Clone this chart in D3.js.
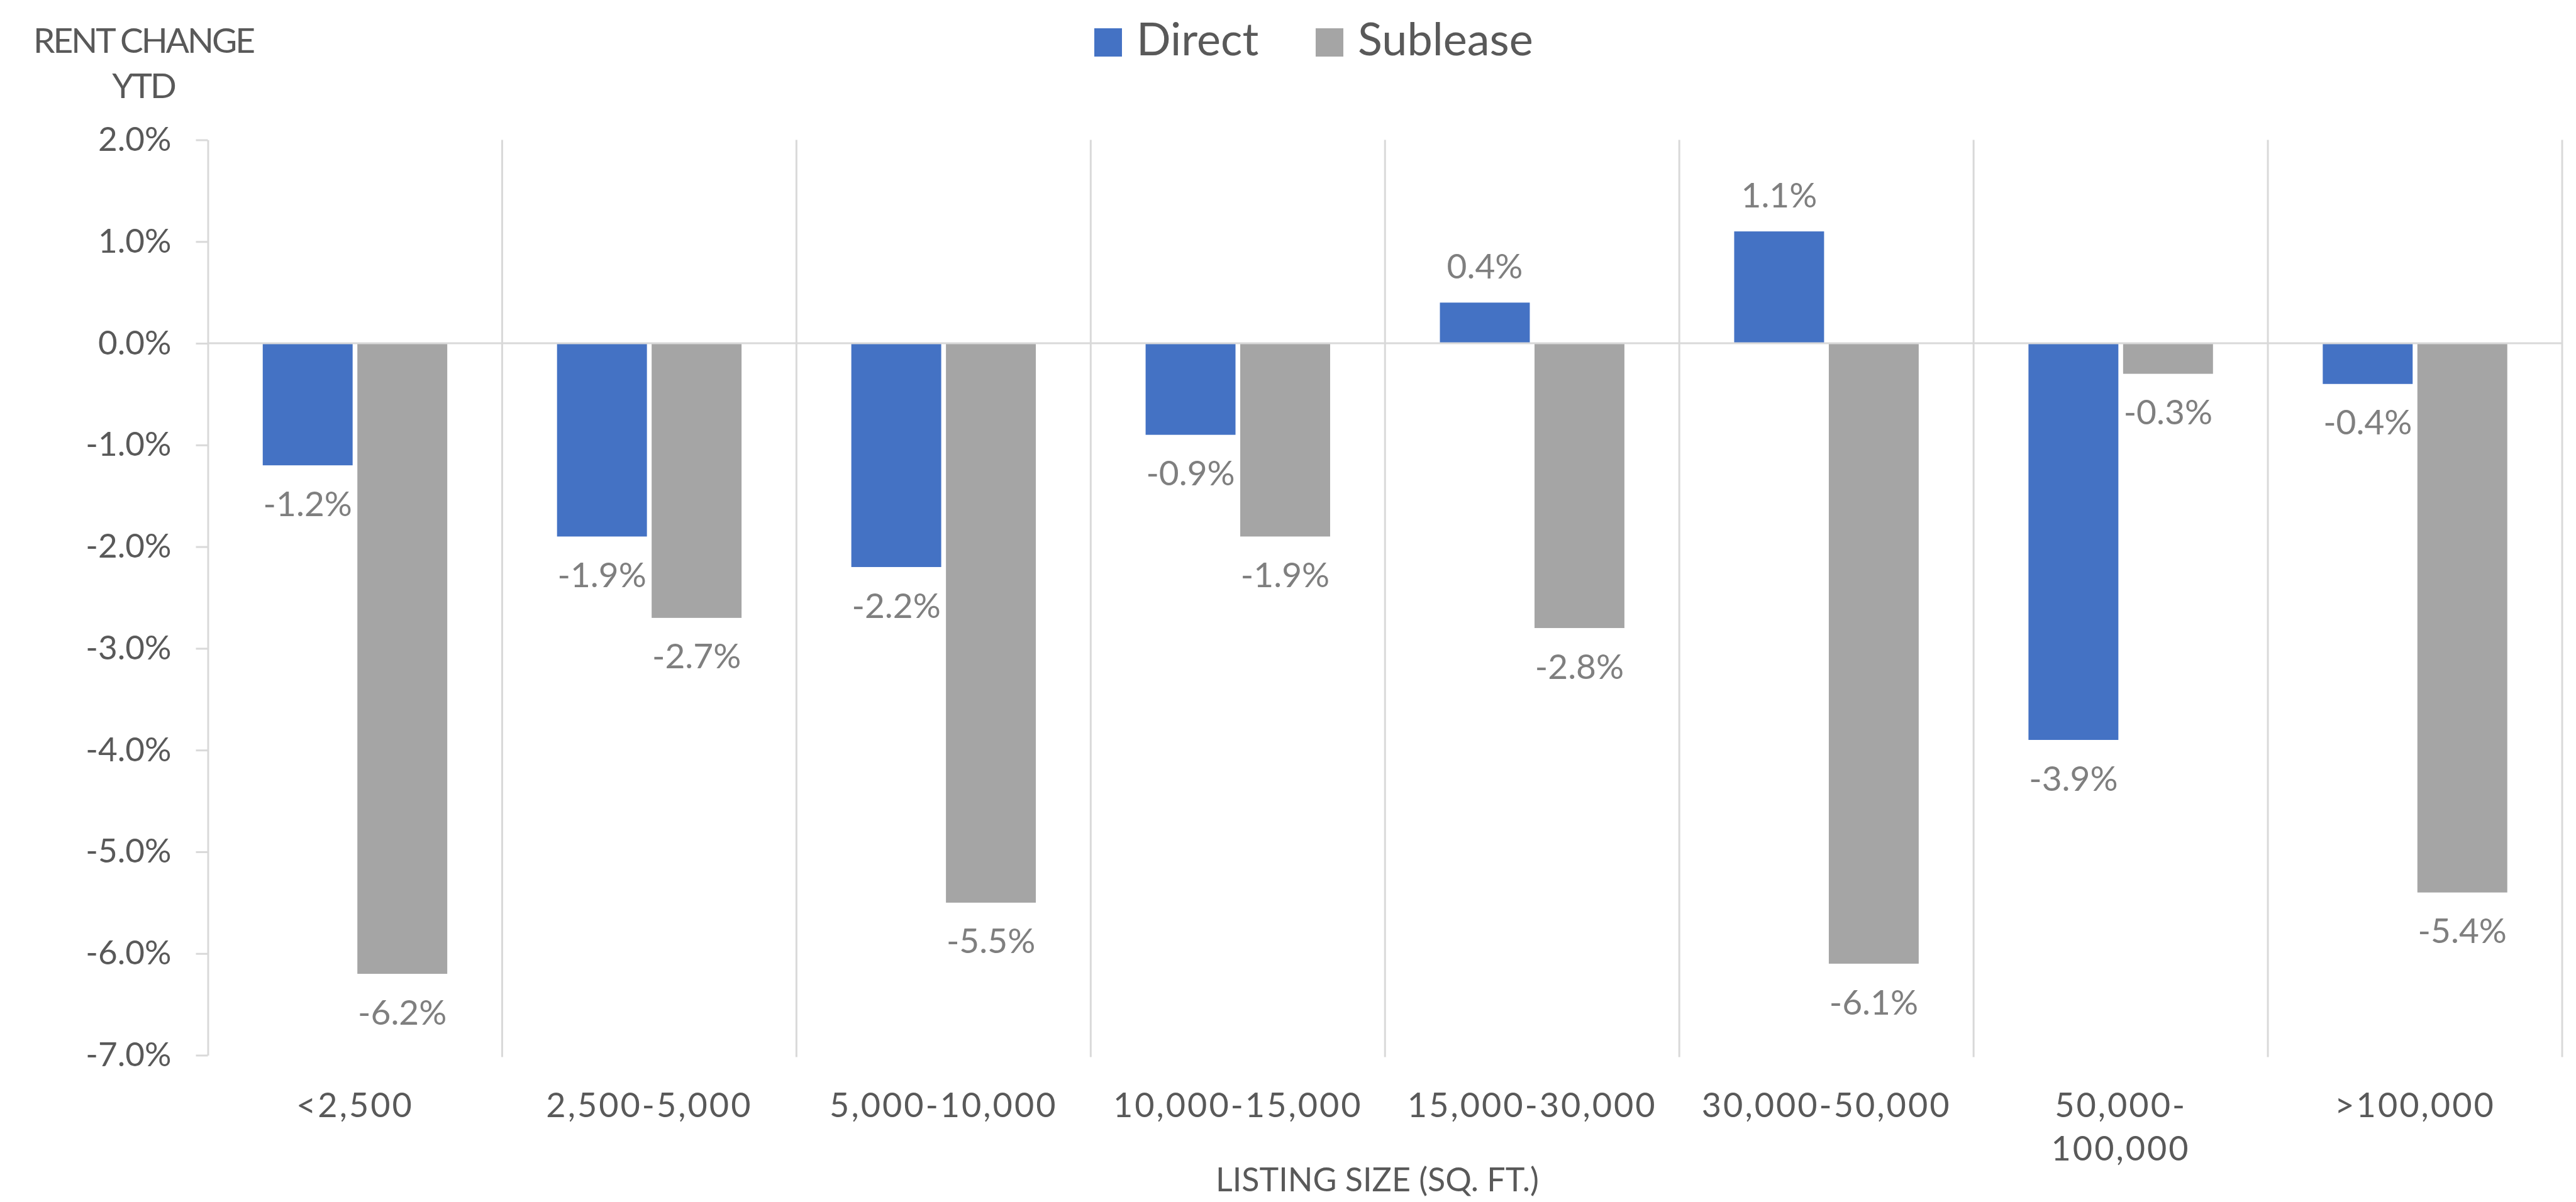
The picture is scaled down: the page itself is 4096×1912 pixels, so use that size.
<!DOCTYPE html>
<html><head><meta charset="utf-8">
<script src="https://cdn.jsdelivr.net/npm/d3@7"></script>
<style>
body{margin:0;background:#fff;}
svg{display:block;background:#fff;}
text{font-family:Lato,"Open Sans",sans-serif;}
</style>
</head><body>
<svg id="chart" width="4096" height="1912"></svg>
<script>
// ---- data ----
const categories = ["<2,500","2,500-5,000","5,000-10,000","10,000-15,000","15,000-30,000","30,000-50,000","50,000-100,000",">100,000"];
const seriesNames = ["Direct","Sublease"];
const directValues = [-1.2,-1.9,-2.2,-0.9,0.4,1.1,-3.9,-0.4];
const subleaseValues = [-6.2,-2.7,-5.5,-1.9,-2.8,-6.1,-0.3,-5.4];
const yTickValues = [2,1,0,-1,-2,-3,-4,-5,-6,-7];
const yTitleLines = ["RENT CHANGE","YTD"];
const xTitle = "LISTING SIZE (SQ. FT.)";
const seriesColors = ["#4472C4","#A5A5A5"];

const seriesValues = [directValues, subleaseValues];
const rows = categories.map((c,i)=>({cat:c, vals: seriesNames.map((s,j)=>({series:s, value:seriesValues[j][i]}))}));

// ---- layout ----
const plotLeft = 330.5, plotRight = 4074, plotTop = 222.5, plotBottom = 1678.5;
const gridColor = "#D9D9D9", axisText = "#595959", labelText = "#7F7F7F";
const locale = d3.formatLocale({decimal:".", thousands:",", grouping:[3], currency:["",""], minus:"-"});
const pct = v => locale.format(".1f")(v) + "%";

const svg = d3.select("#chart");

const x0 = d3.scaleBand().domain(categories).range([plotLeft, plotRight]).padding(0);
const x1 = d3.scaleBand().domain(seriesNames).range([0, x0.bandwidth()]).paddingInner(0.05).paddingOuter(0.58);
const y = d3.scaleLinear().domain([-7, 2]).range([plotBottom, plotTop]);
const color = d3.scaleOrdinal().domain(seriesNames).range(seriesColors);

// vertical category gridlines
const bounds = categories.map((c)=>x0(c)+x0.bandwidth());
svg.append("g").selectAll("line").data(bounds).join("line")
  .attr("x1",d=>d).attr("x2",d=>d)
  .attr("y1",y(2)).attr("y2",y(-7)+3)
  .attr("stroke",gridColor).attr("stroke-width",3);

// y axis
const yAxis = d3.axisLeft(y).tickValues(yTickValues)
  .tickFormat(pct)
  .tickSizeInner(19).tickSizeOuter(0).tickPadding(39);
const gy = svg.append("g").attr("transform",`translate(${plotLeft},0)`).call(yAxis);
gy.select(".domain").attr("stroke",gridColor).attr("stroke-width",3);
gy.selectAll(".tick line").attr("stroke",gridColor).attr("stroke-width",3);
gy.selectAll(".tick text").attr("fill",axisText).style("font-size","53px").style("font-family","Lato");

// bars
const groups = svg.append("g").selectAll("g").data(rows).join("g")
  .attr("transform",d=>`translate(${x0(d.cat)},0)`);
groups.selectAll("rect").data(d=>d.vals).join("rect")
  .attr("x",d=>x1(d.series)).attr("width",x1.bandwidth())
  .attr("y",d=>Math.min(y(d.value),y(0)))
  .attr("height",d=>Math.abs(y(d.value)-y(0)))
  .attr("fill",d=>color(d.series));

// zero line
svg.append("line").attr("x1",plotLeft).attr("x2",plotRight)
  .attr("y1",y(0)).attr("y2",y(0))
  .attr("stroke",gridColor).attr("stroke-width",3);

// data labels
groups.selectAll("text.val").data(d=>d.vals).join("text").attr("class","val")
  .attr("x",d=>x1(d.series)+x1.bandwidth()/2)
  .attr("y",d=>d.value<0 ? y(d.value)+80.6 : y(d.value)-38)
  .attr("text-anchor","middle").attr("fill",labelText)
  .style("font-size","55px")
  .text(d=>pct(d.value));

// x category labels
const xl = svg.append("g").selectAll("text").data(categories).join("text")
  .attr("x",d=>x0(d)+x0.bandwidth()/2)
  .attr("y",1777)
  .attr("text-anchor","middle").attr("fill",axisText)
  .style("font-size","54px").style("letter-spacing","3px");
xl.each(function(d){
  const t = d3.select(this);
  const lines = d.length > 13 ? [d.slice(0,d.indexOf("-")+1), d.slice(d.indexOf("-")+1)] : [d];
  lines.forEach((ln,i)=>{
    t.append("tspan").attr("x",x0(d)+x0.bandwidth()/2).attr("dy", i===0?0:68.6).text(ln);
  });
});

// x title
svg.append("text").attr("x",2190).attr("y",1895).attr("text-anchor","middle")
  .attr("fill",axisText).style("font-size","52px").text(xTitle);

// y title
const yt = svg.append("text").attr("text-anchor","middle").attr("fill",axisText)
  .style("font-size","55px").style("letter-spacing","-3px");
yTitleLines.forEach((ln,i)=>{
  yt.append("tspan").attr("x",228).attr("y",83.5+i*72).text(ln);
});

// legend
const legendX = [1740, 2092];
const lg = svg.append("g").selectAll("g").data(seriesNames).join("g")
  .attr("transform",(d,i)=>`translate(${legendX[i]},0)`);
lg.append("rect").attr("x",0).attr("y",45).attr("width",44).attr("height",45).attr("fill",d=>color(d));
lg.append("text").attr("x",67).attr("y",88).attr("fill",axisText).style("font-size","72px").text(d=>d);
</script>
</body></html>
